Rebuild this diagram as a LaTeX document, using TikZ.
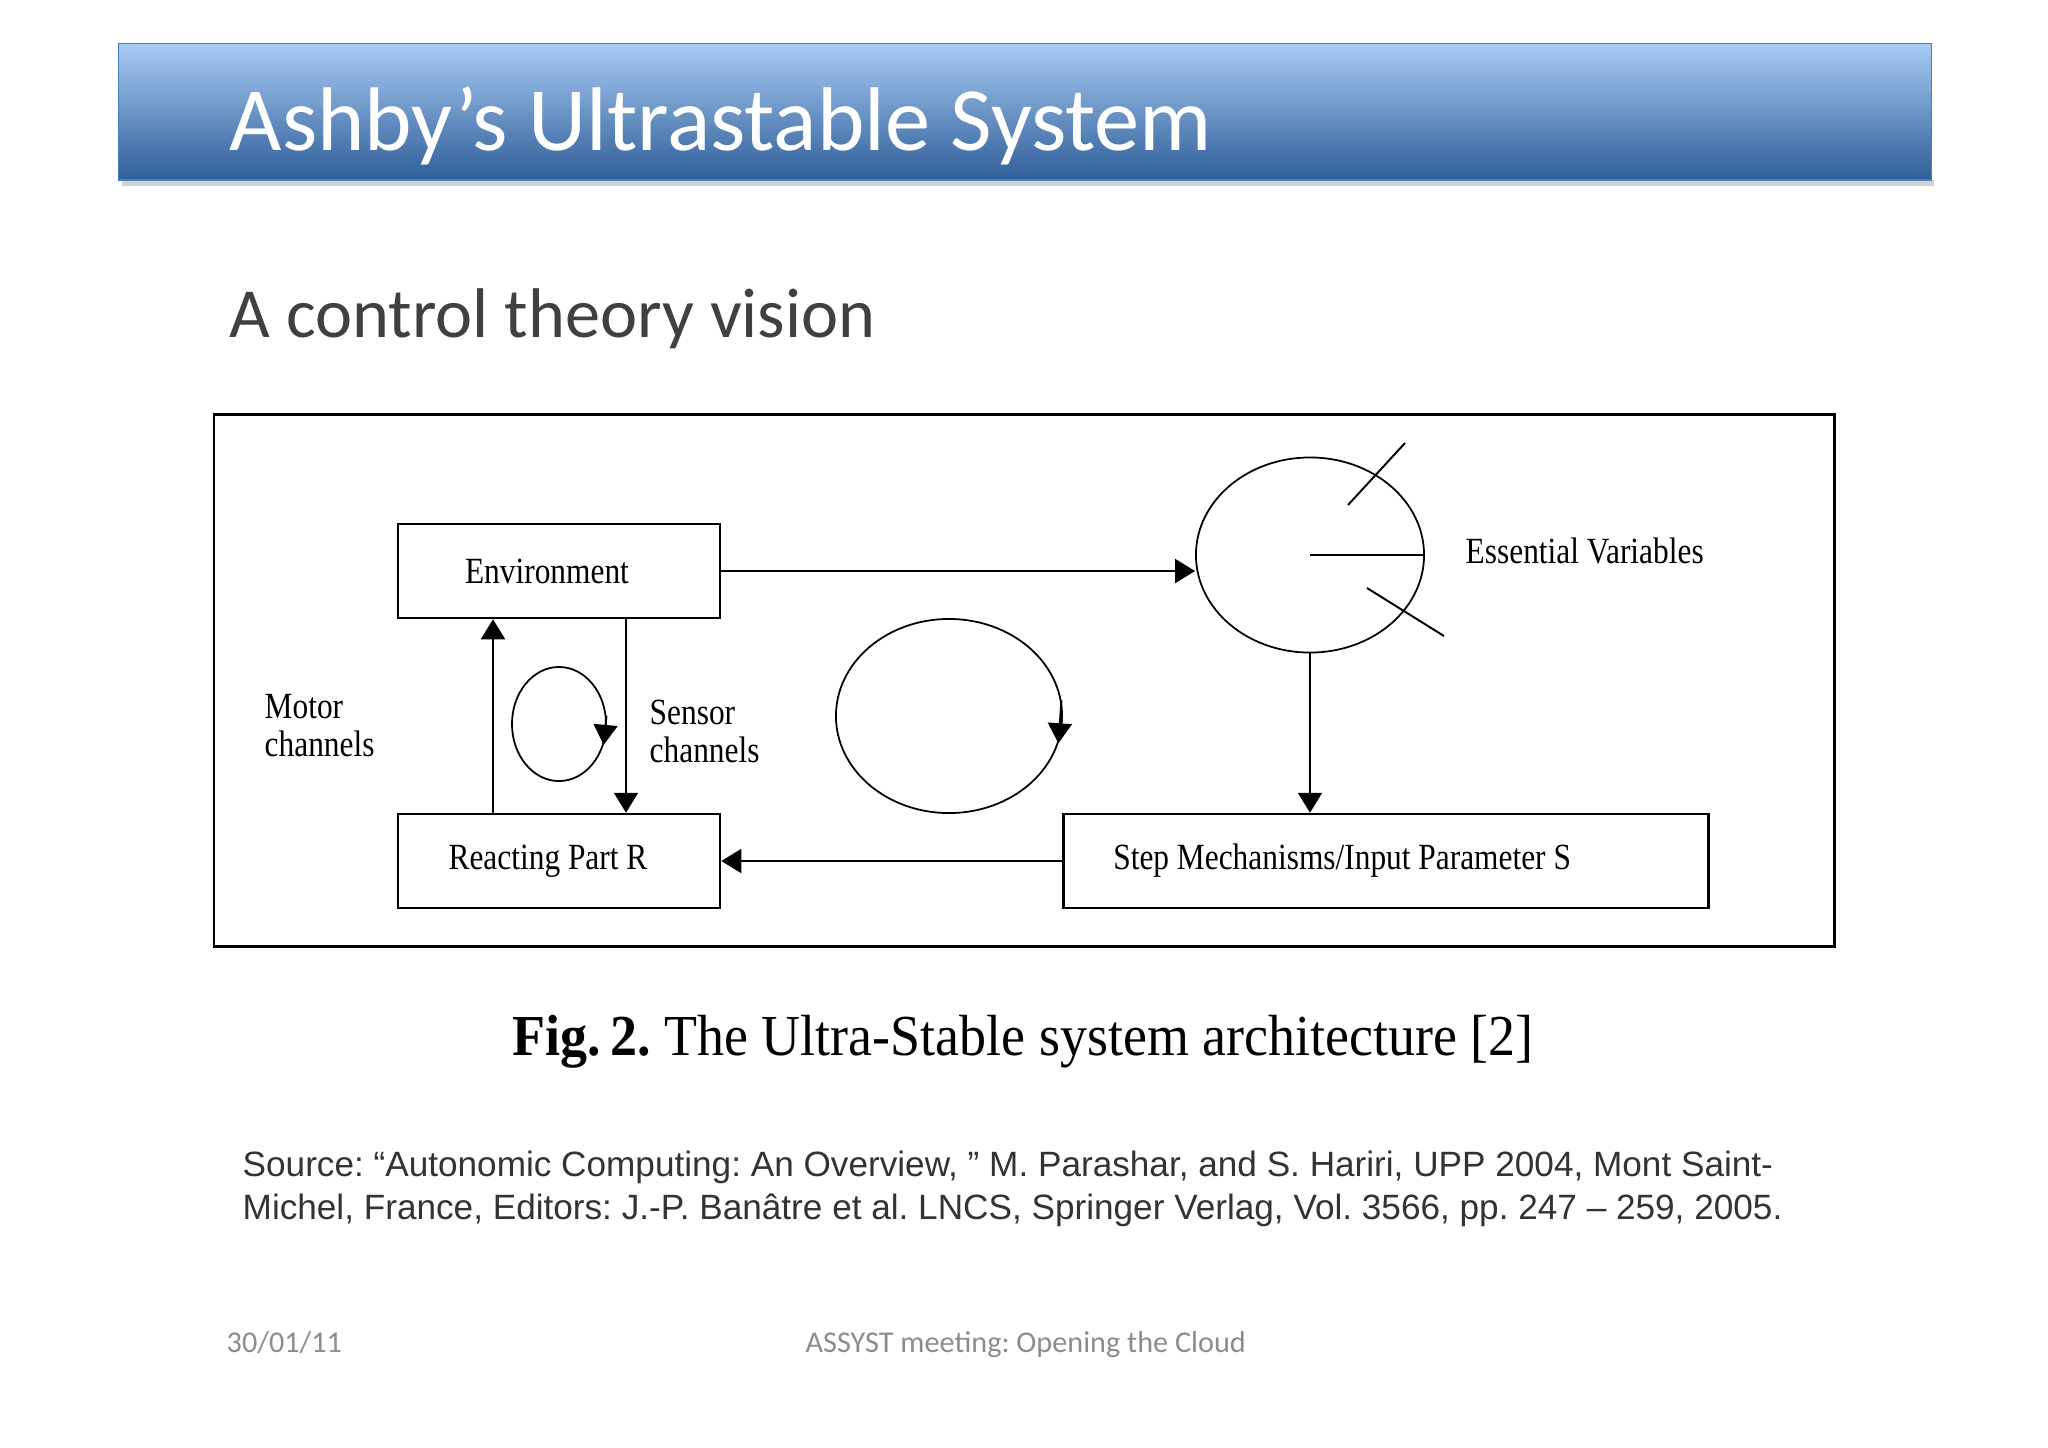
\documentclass[tikz,border=0pt]{standalone}
\usepackage{fontspec}
\newfontfamily\slidefont{Carlito}
\newfontfamily\srcfont{Liberation Sans}
\newfontfamily\figfont[FakeStretch=0.85]{Liberation Serif}
\newfontfamily\capfont[FakeStretch=0.93]{Liberation Serif}
\usetikzlibrary{arrows.meta,shapes.geometric,calc}
\definecolor{bannertop}{HTML}{A8CBF4}
\definecolor{bannerbot}{HTML}{2F5E98}
\definecolor{bannerline}{HTML}{4A7EBB}
\definecolor{subgrey}{HTML}{404040}
\definecolor{footgrey}{HTML}{8C8C8C}
\definecolor{srcgrey}{HTML}{333333}
\tikzset{
  blk/.style={draw, line width=0.7pt, minimum width=3.22cm, minimum height=0.94cm,
    font=\figfont\fontsize{10.5}{12}\selectfont},
  loopy/.style={draw, ellipse, line width=0.5pt, inner sep=0pt},
  arr/.style={line width=0.55pt, -{Triangle[length=0.2cm, width=0.24cm]}},
  lbl/.style={font=\figfont\fontsize{10.5}{10.8}\selectfont, align=left, anchor=west, inner sep=0pt}
}
\frenchspacing
\begin{document}
\begin{tikzpicture}[x=0.01cm, y=-0.01cm]
    \useasboundingbox (0,0) rectangle (2048,1447);

    % Title banner
    \fill[gray!35] (122,180) rectangle (1934,186);
    \node[draw=bannerline, line width=0.4pt, top color=bannertop, bottom color=bannerbot,
      minimum width=18.12cm, minimum height=1.36cm, anchor=north west, inner sep=0pt] (banner) at (118,43) {};
    \node[anchor=base west, text=white, inner sep=0pt,
      font=\slidefont\fontsize{25.7}{30}\selectfont] (title) at (229,150) {Ashby’s Ultrastable System};
    \node[anchor=base west, text=subgrey, inner sep=0pt,
      font=\slidefont\fontsize{20}{24}\selectfont] (sub) at (229,337) {A control theory vision};

    % Frame of the figure
    \draw[line width=0.85pt] (214,414) rectangle (1834,946);

    % Define the blocks
    \node[blk] (env) at (559,571) {Environment\kern0.24cm};
    \node[blk] (react) at (559,861) {Reacting Part R\kern0.22cm};
    \node[blk, inner xsep=0.5cm] (step) at (1386,861) {\makebox[5.45cm][l]{Step Mechanisms/Input Parameter S}};
    \node[loopy, minimum width=2.28cm, minimum height=1.95cm] (ev) at (1310,555) {};
    \node[loopy, minimum width=2.26cm, minimum height=1.94cm] (big) at (949,716) {};
    \node[loopy, minimum width=0.94cm, minimum height=1.14cm] (small) at (559,724) {};

    % Define the points of the channels and the dials
    \coordinate (motor) at (493,0);
    \coordinate (sensor) at (626,0);
    \coordinate (T1) at (1348,505);
    \coordinate (T2) at (1405,443);
    \coordinate (T3) at (1367,588);
    \coordinate (T4) at (1444,636);

    % Draw the connections
    \draw[arr] (env.east) -- (env.east -| ev.west);
    \draw[arr] (ev.south) -- (step.north -| ev.south);
    \draw[arr] (step.west) -- (react.east);
    \draw[arr] (react.north -| motor) -- (env.south -| motor);
    \draw[arr] (env.south -| sensor) -- (react.north -| sensor);
    \draw[arr] (big.8) -- (big.-14);
    \draw[arr] (small.10) -- (small.-25);

    % Draw the dials of the essential variables
    \draw[line width=0.55pt] (ev.center) -- (ev.east);
    \draw[line width=0.55pt] (T1) -- (T2);
    \draw[line width=0.55pt] (T3) -- (T4);

    % Place the labels
    \node[lbl] (motorlbl) at (264,726) {Motor\\channels};
    \node[lbl] (sensorlbl) at (649,731) {Sensor\\channels};
    \node[lbl] (evlbl) at (1465,551) {Essential Variables};

    % Caption, source and footer
    \node[anchor=base, inner sep=0pt, font=\capfont\fontsize{16.5}{20}\selectfont] (cap) at (1023,1055)
      {\textbf{Fig.\,2.} The Ultra-Stable system architecture [2]};
    \node[anchor=north west, align=left, inner sep=0pt, text=srcgrey,
      font=\srcfont\fontsize{10}{12.2}\selectfont] (src) at (242,1150)
      {Source: “Autonomic Computing: An Overview, ” M. Parashar, and S. Hariri, UPP 2004, Mont Saint-\\
       Michel, France, Editors: J.-P. Banâtre et al. LNCS, Springer Verlag, Vol. 3566, pp. 247 – 259, 2005.};
    \node[anchor=base west, inner sep=0pt, text=footgrey, font=\slidefont\fontsize{8.6}{10}\selectfont] (date) at (226,1352) {30/01/11};
    \node[anchor=base west, inner sep=0pt, text=footgrey, font=\slidefont\fontsize{8.6}{10}\selectfont] (meet) at (805,1352) {ASSYST meeting: Opening the Cloud};
\end{tikzpicture}
\end{document}
